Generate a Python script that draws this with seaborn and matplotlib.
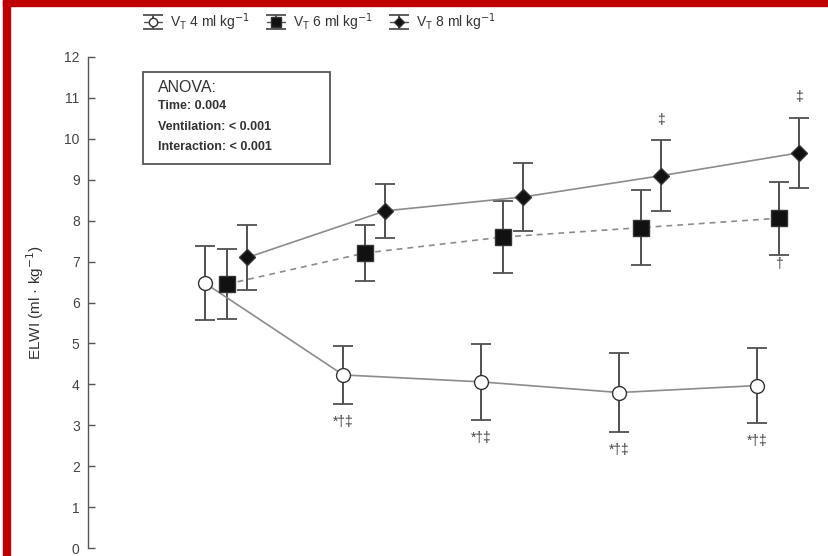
import numpy as np
import pandas as pd
import matplotlib
matplotlib.use("Agg")
import matplotlib.pyplot as plt
from matplotlib.lines import Line2D
from matplotlib.patches import Rectangle
from matplotlib.legend_handler import HandlerTuple
import seaborn as sns

# ---- data ----
time_points = [0, 1, 2, 3, 4]
vt4_mean = [6.47, 4.23, 4.06, 3.80, 3.97]
vt4_sd = [0.90, 0.71, 0.93, 0.96, 0.92]
vt6_mean = [6.45, 7.21, 7.60, 7.83, 8.06]
vt6_sd = [0.86, 0.68, 0.88, 0.91, 0.89]
vt8_mean = [7.10, 8.24, 8.58, 9.10, 9.66]
vt8_sd = [0.80, 0.66, 0.84, 0.86, 0.85]
series_labels = ["V$_\\mathregular{T}$ 4 ml kg$^{-1}$",
                 "V$_\\mathregular{T}$ 6 ml kg$^{-1}$",
                 "V$_\\mathregular{T}$ 8 ml kg$^{-1}$"]
y_ticks = list(range(0, 13))
anova_title = "ANOVA:"
anova_lines = ["Time: 0.004", "Ventilation: < 0.001", "Interaction: < 0.001"]
# (series index, time index, text, side)
sig_marks = [(0, 1, "*†‡", "below"), (0, 2, "*†‡", "below"),
             (0, 3, "*†‡", "below"), (0, 4, "*†‡", "below"),
             (2, 3, "‡", "above"), (2, 4, "‡", "above"),
             (1, 4, "†", "below")]

sns.set_style("ticks")
plt.rcParams['font.family'] = ['Liberation Sans', 'DejaVu Sans']

W, H = 829, 556
fig = plt.figure(figsize=(W / 100, H / 100), dpi=100)
fig.patch.set_facecolor("white")
ax_left, ax_right, ax_top, ax_bot = 88, 829, 57, 548
ax = fig.add_axes([ax_left / W, (H - ax_bot) / H, (ax_right - ax_left) / W, (ax_bot - ax_top) / H])

offsets = [-0.158, 0.0, 0.148]
means = [vt4_mean, vt6_mean, vt8_mean]
sds = [vt4_sd, vt6_sd, vt8_sd]
markers = ["o", "s", "D"]
msizes = [10, 11, 8]
mfc = ["white", "#111111", "#111111"]
linestyles = ["-", (0, (3.5, 3)), "-"]
line_col = "#8c8c8c"
err_col = "#505050"

handles = []
for i in range(3):
    xs = np.array(time_points) + offsets[i]
    df = pd.DataFrame({"x": xs, "y": means[i]})
    eb = ax.errorbar(xs, means[i], yerr=sds[i], fmt="none", ecolor=err_col,
                     elinewidth=1.4, capsize=7, capthick=1.3, zorder=2)
    sns.lineplot(data=df, x="x", y="y", ax=ax, color=line_col, linewidth=1.2,
                 linestyle=linestyles[i], marker=markers[i], markersize=msizes[i],
                 markerfacecolor=mfc[i], markeredgecolor="#333333",
                 markeredgewidth=1.0, zorder=3, legend=False)
    proxy = Line2D([], [], color="#555555", linewidth=1.0, marker=markers[i],
                   markersize=msizes[i] * 0.6, markerfacecolor=mfc[i],
                   markeredgecolor="#333333")
    handles.append((eb, proxy))

for si, ti, txt, side in sig_marks:
    x = time_points[ti] + offsets[si]
    if side == "below":
        y = means[si][ti] - sds[si][ti]
        off = -13 if si == 0 else -7
    else:
        y = means[si][ti] + sds[si][ti]
        off = 15
    ax.annotate(txt, xy=(x, y), xytext=(0, off), textcoords="offset points",
                ha="center", va="center", fontsize=10, color="#444444")

ax.set_ylim(0, 12)
ax.set_xlim(-(227 - 88) / 138, (829 - 227) / 138)
ax.set_yticks(y_ticks)
ax.set_xticks([])
for s in ["top", "right", "bottom"]:
    ax.spines[s].set_visible(False)
ax.spines["left"].set_color("#555555")
ax.spines["left"].set_linewidth(1.0)
ax.tick_params(axis="y", direction="in", length=5, width=1.0, colors="#555555",
               labelcolor="#444444", labelsize=10, pad=6)
ax.set_ylabel("ELWI (ml · kg$^{-1}$)", fontsize=11, color="#333333", labelpad=13)
ax.set_xlabel("")
ax.set_facecolor("white")

# ANOVA box
bx0, by0, bx1, by1 = 143, 72, 330, 164
fig.patches.append(Rectangle((bx0 / W, 1 - by1 / H), (bx1 - bx0) / W, (by1 - by0) / H,
                             transform=fig.transFigure, fill=False,
                             edgecolor="#555555", linewidth=1.3))
fig.text(158 / W, 1 - 88 / H, anova_title, fontsize=11.5, color="#333333",
         va="center", ha="left")
for k, line in enumerate(anova_lines):
    fig.text(158 / W, 1 - (106 + 20.5 * k) / H, line, fontsize=9, color="#333333",
             fontweight="bold", va="center", ha="left")

# legend
fig.legend(handles=handles, labels=series_labels, loc="center",
           bbox_to_anchor=(320 / W, 1 - 22 / H), ncol=3, frameon=False,
           fontsize=10, handlelength=1.3, handletextpad=0.6, columnspacing=1.2,
           handler_map={tuple: HandlerTuple(ndivide=1, pad=0)},
           labelcolor="#333333")

# red frame
fig.patches.append(Rectangle((3 / W, 1 - 6 / H), 1 - 3 / W, 6 / H,
                             transform=fig.transFigure, color="#c00000", zorder=10))
fig.patches.append(Rectangle((3 / W, 0), 7 / W, 1,
                             transform=fig.transFigure, color="#c00000", zorder=10))

fig.savefig("out.png", dpi=100, facecolor="white")
